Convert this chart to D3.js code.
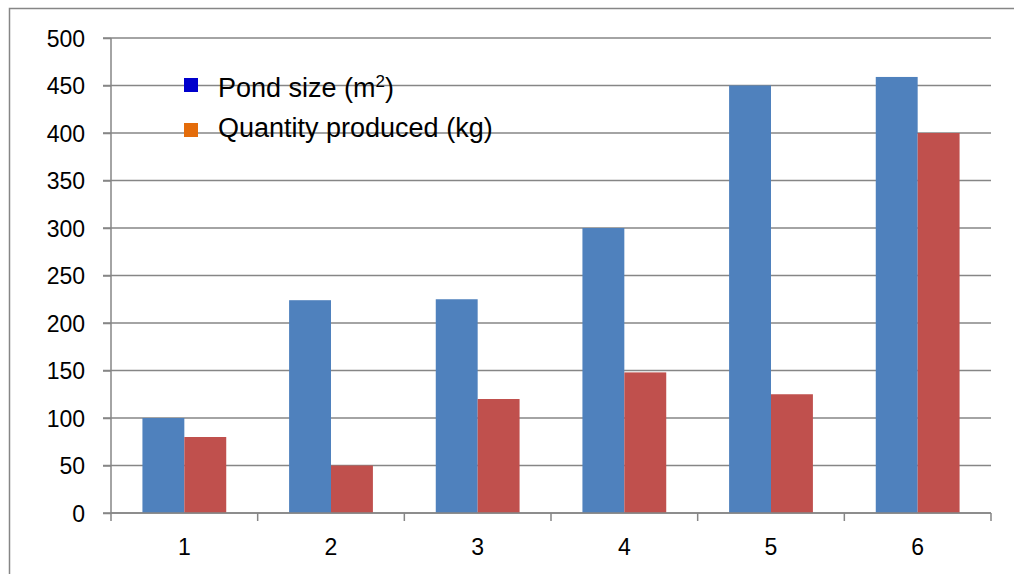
<!DOCTYPE html>
<html><head><meta charset="utf-8">
<script src="https://cdn.jsdelivr.net/npm/d3@7"></script>
<style>body{margin:0;background:#fff}svg{display:block}text{font-family:"Liberation Sans",Arial,sans-serif}</style>
</head><body>
<svg id="c" width="1014" height="574"></svg>
<script>
const categories = ["1","2","3","4","5","6"];
const pondSize = [100, 224, 225, 300, 450, 459];
const quantity = [80, 50, 120, 148, 125, 400];
const seriesNames = ["Pond size (m", "Quantity produced (kg)"];
const yTicks = [0,50,100,150,200,250,300,350,400,450,500];

const svg = d3.select("#c");
const L=111, R=991, T=38, B=513;
svg.append("rect").attr("x",9.5).attr("y",8.5).attr("width",1100).attr("height",700)
  .attr("fill","none").attr("stroke","#868686").attr("stroke-width",1.5);

const x = d3.scaleBand().domain(categories).range([L,R]).paddingInner(0).paddingOuter(0);
const y = d3.scaleLinear().domain([0,500]).range([B,T]);

// gridlines
svg.append("g").selectAll("line").data(yTicks).join("line")
  .attr("x1",L-8).attr("x2",R).attr("y1",d=>y(d)).attr("y2",d=>y(d))
  .attr("stroke","#868686").attr("stroke-width",1.5);

// bars
const bw = x.bandwidth();
const barW = bw/(2+1.5);
const gap = bw - 2*barW;
const data = categories.map((c,i)=>({c, v:[pondSize[i], quantity[i]]}));
const colors = ["#4F81BD","#C0504D"];
[0,1].forEach(s=>{
  svg.append("g").selectAll("rect").data(data).join("rect")
    .attr("x",d=>x(d.c)+gap/2+s*barW)
    .attr("y",d=>y(d.v[s]))
    .attr("width",barW)
    .attr("height",d=>B-y(d.v[s]))
    .attr("fill",colors[s]);
});

// y axis
const ya = svg.append("g").attr("transform",`translate(${L},0)`)
  .call(d3.axisLeft(y).tickValues(yTicks).tickSize(8).tickPadding(18));
ya.select(".domain").attr("stroke","#868686").attr("stroke-width",1.5).attr("d",`M0,${T}V${B}`);
ya.selectAll(".tick line").attr("stroke","#868686").attr("stroke-width",1.5);
ya.selectAll("text").attr("font-size",23).attr("fill","#000").attr("dy","0.35em");

// x axis
const xa = svg.append("g").attr("transform",`translate(0,${B})`)
  .call(d3.axisBottom(x).tickSize(0).tickPadding(26));
xa.select(".domain").attr("stroke","#868686").attr("stroke-width",1.5).attr("d",`M${L},0H${R}`);
xa.selectAll("text").attr("font-size",23).attr("fill","#000");
const bounds = categories.map(c=>x(c)).concat([R]);
xa.append("g").selectAll("line").data(bounds).join("line")
  .attr("x1",d=>d).attr("x2",d=>d).attr("y1",0).attr("y2",8)
  .attr("stroke","#868686").attr("stroke-width",1.5);

// legend
const lg = svg.append("g");
const legColors = ["#0000CC","#E46C0A"];
seriesNames.forEach((n,i)=>{
  lg.append("rect").attr("x",184).attr("y",78+i*45).attr("width",14).attr("height",14).attr("fill",legColors[i]);
  const t = lg.append("text").attr("x",218).attr("y",97+i*40).attr("font-size",27).attr("fill","#000");
  if (i===0) {
    t.append("tspan").text(n);
    t.append("tspan").attr("font-size",17).attr("dy",-10).text("2");
    t.append("tspan").attr("dy",10).text(")");
  } else {
    t.text(n);
  }
});
</script>
</body></html>
